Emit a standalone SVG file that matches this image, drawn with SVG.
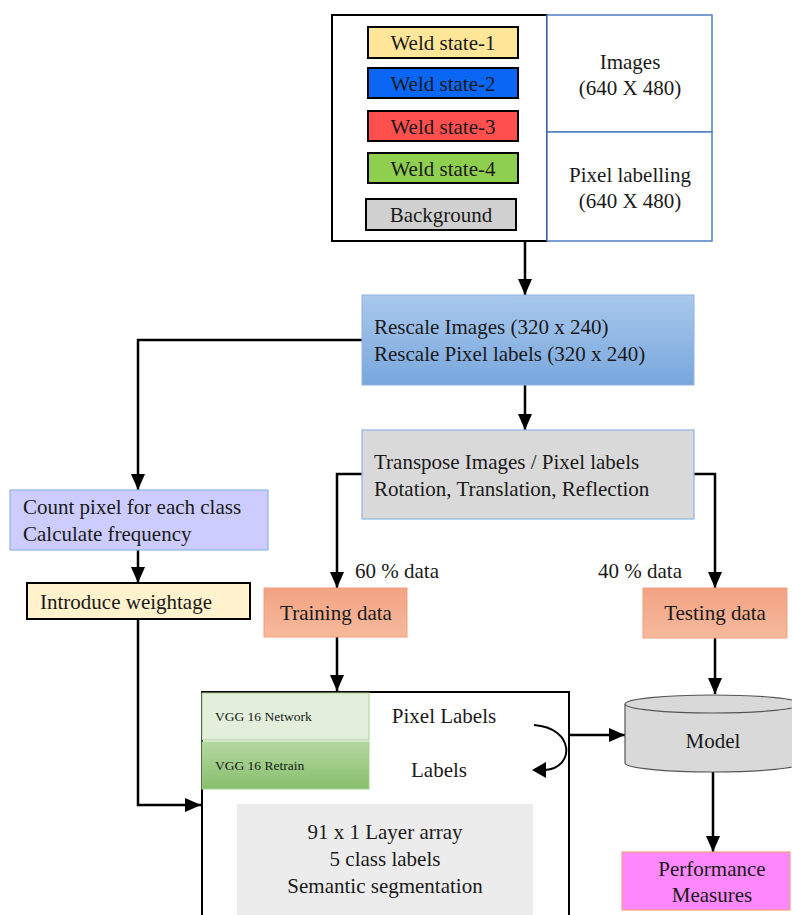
<svg xmlns="http://www.w3.org/2000/svg" width="792" height="915" viewBox="0 0 792 915">
  <style>
    text { font-family: "Liberation Serif", "Times New Roman", "DejaVu Serif", serif; font-size: 21px; fill: #1a1a1a; }
    .small { font-size: 13.5px; }
    .mid { text-anchor: middle; }
    .conn { fill: none; stroke: #000; stroke-width: 2.5; }
    .blk { stroke: #000; stroke-width: 2; }
    .blue { stroke: #4f7fc0; stroke-width: 1.5; fill: #fff; }
  </style>
  <defs>
    <marker id="ah" viewBox="0 0 16 16" refX="16" refY="8" markerWidth="16" markerHeight="16" orient="auto" markerUnits="userSpaceOnUse">
      <path d="M0,1 L16,8 L0,15 Z" fill="#000"/>
    </marker>
    <linearGradient id="gBlue" x1="0" y1="0" x2="0" y2="1">
      <stop offset="0" stop-color="#a9c8ec"/>
      <stop offset="1" stop-color="#78a7dd"/>
    </linearGradient>
    <linearGradient id="gOrange" x1="0" y1="0" x2="0" y2="1">
      <stop offset="0" stop-color="#f2a383"/>
      <stop offset="1" stop-color="#f6b99c"/>
    </linearGradient>
    <linearGradient id="gGreen" x1="0" y1="0" x2="0" y2="1">
      <stop offset="0" stop-color="#b4d8a0"/>
      <stop offset="1" stop-color="#86bf6c"/>
    </linearGradient>
  </defs>

  <!-- connectors -->
  <g id="connectors">
    <path class="conn" d="M525,242 V295" marker-end="url(#ah)"/>
    <path class="conn" d="M525,385 V430" marker-end="url(#ah)"/>
    <path class="conn" d="M362,340 H138 V490" marker-end="url(#ah)"/>
    <path class="conn" d="M138,550 V583" marker-end="url(#ah)"/>
    <path class="conn" d="M138,619 V805 H201" marker-end="url(#ah)"/>
    <path class="conn" d="M362,474 H337 V588" marker-end="url(#ah)"/>
    <path class="conn" d="M694,474 H715 V588" marker-end="url(#ah)"/>
    <path class="conn" d="M337,637 V691" marker-end="url(#ah)"/>
    <path class="conn" d="M715,638 V694" marker-end="url(#ah)"/>
    <path class="conn" d="M569,735 H625" marker-end="url(#ah)"/>
    <path class="conn" d="M713,772 V852" marker-end="url(#ah)"/>
  </g>

  <!-- input data block -->
  <g id="input-block">
    <rect class="blk" x="332" y="15" width="215" height="226" fill="#fff"/>
    <rect class="blue" x="547" y="15" width="165" height="117"/>
    <rect class="blue" x="547" y="132" width="165" height="109"/>
    <text class="mid" x="630" y="69">Images</text>
    <text class="mid" x="630" y="95">(640 X 480)</text>
    <text class="mid" x="630" y="182">Pixel labelling</text>
    <text class="mid" x="630" y="208">(640 X 480)</text>
  </g>
  <g id="weld-state-1">
    <rect class="blk" x="368" y="27" width="150" height="31" fill="#ffe699"/>
    <text class="mid" x="443" y="50">Weld state-1</text>
  </g>
  <g id="weld-state-2">
    <rect class="blk" x="368" y="68" width="150" height="30" fill="#0a66f5"/>
    <text class="mid" x="443" y="91">Weld state-2</text>
  </g>
  <g id="weld-state-3">
    <rect class="blk" x="368" y="111" width="150" height="30" fill="#ff4f4f"/>
    <text class="mid" x="443" y="134">Weld state-3</text>
  </g>
  <g id="weld-state-4">
    <rect class="blk" x="368" y="153" width="150" height="30" fill="#8fcf4f"/>
    <text class="mid" x="443" y="176">Weld state-4</text>
  </g>
  <g id="background">
    <rect class="blk" x="366" y="199" width="150" height="31" fill="#d0d0d0"/>
    <text class="mid" x="441" y="222">Background</text>
  </g>

  <!-- rescale step -->
  <g id="rescale">
    <rect x="362" y="295" width="332" height="90" fill="url(#gBlue)" stroke="#8fb4e0" stroke-width="1"/>
    <text x="374" y="334">Rescale Images (320 x 240)</text>
    <text x="374" y="361">Rescale Pixel labels (320 x 240)</text>
  </g>

  <!-- augmentation step -->
  <g id="transpose">
    <rect x="362" y="430" width="332" height="89" fill="#d9d9d9" stroke="#8fb4e0" stroke-width="1.2"/>
    <text x="374" y="469">Transpose Images / Pixel labels</text>
    <text x="374" y="496">Rotation, Translation, Reflection</text>
  </g>

  <!-- class frequency -->
  <g id="count-pixels">
    <rect x="10" y="490" width="258" height="60" fill="#ccccff" stroke="#8fb4e0" stroke-width="1.2"/>
    <text x="23" y="514">Count pixel for each class</text>
    <text x="23" y="541">Calculate frequency</text>
  </g>
  <g id="weightage">
    <rect class="blk" x="27" y="583" width="223" height="36" fill="#fff2cc"/>
    <text x="40" y="609">Introduce weightage</text>
  </g>

  <!-- split labels -->
  <text x="355" y="578">60 % data</text>
  <text x="598" y="578">40 % data</text>

  <g id="training-data">
    <rect x="264" y="588" width="143" height="49" fill="url(#gOrange)" stroke="#f0a080" stroke-width="1"/>
    <text class="mid" x="336" y="620">Training data</text>
  </g>
  <g id="testing-data">
    <rect x="643" y="588" width="144" height="50" fill="url(#gOrange)" stroke="#f0a080" stroke-width="1"/>
    <text class="mid" x="715" y="620">Testing data</text>
  </g>

  <!-- network block -->
  <g id="network">
    <rect class="blk" x="202" y="692" width="367" height="230" fill="#fff"/>
    <rect x="202" y="693" width="167" height="47" fill="#e2efda" stroke="#a9d08e" stroke-width="1"/>
    <text class="small" x="215" y="721">VGG 16 Network</text>
    <rect x="202" y="742" width="167" height="47" fill="url(#gGreen)" stroke="#a9d08e" stroke-width="1"/>
    <text class="small" x="215" y="770">VGG 16 Retrain</text>
    <text class="mid" x="444" y="723">Pixel Labels</text>
    <text class="mid" x="439" y="777">Labels</text>
    <path d="M534,725 C575,728 575,768 545,770" fill="none" stroke="#000" stroke-width="2"/>
    <path d="M532,770 L546,762 L546,778 Z" fill="#000"/>
    <rect x="237" y="804" width="296" height="115" fill="#ececec"/>
    <text class="mid" x="385" y="839">91 x 1 Layer array</text>
    <text class="mid" x="385" y="866">5 class labels</text>
    <text class="mid" x="385" y="893">Semantic segmentation</text>
  </g>

  <!-- model -->
  <g id="model">
    <path d="M625,704 V763 A88,9 0 0 0 801,763 V704" fill="#d9d9d9" stroke="#555" stroke-width="1.2"/>
    <ellipse cx="713" cy="704" rx="88" ry="9" fill="#d9d9d9" stroke="#555" stroke-width="1.2"/>
    <text class="mid" x="713" y="748">Model</text>
  </g>

  <g id="performance">
    <rect x="622" y="852" width="168" height="58" fill="#ff88ff" stroke="#f0a080" stroke-width="1.2"/>
    <text class="mid" x="712" y="876">Performance</text>
    <text class="mid" x="712" y="902">Measures</text>
  </g>
</svg>
